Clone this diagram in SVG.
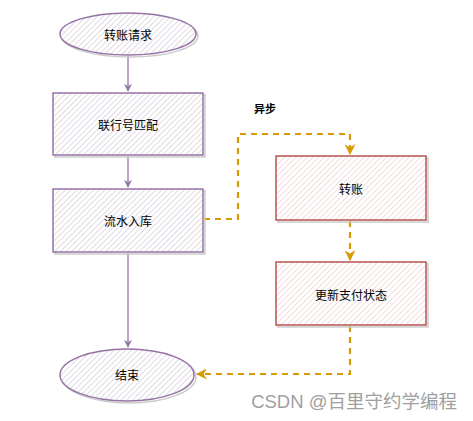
<svg xmlns="http://www.w3.org/2000/svg" width="473" height="421" viewBox="0 0 473 421">
<defs>
<pattern id="hp" patternUnits="userSpaceOnUse" width="4" height="4" patternTransform="rotate(45)">
<rect width="4" height="4" fill="#ffffff"/>
<line x1="0" y1="0" x2="0" y2="4" stroke="#c6bccc" stroke-width="1.1"/>
</pattern>
<pattern id="hr" patternUnits="userSpaceOnUse" width="4" height="4" patternTransform="rotate(45)">
<rect width="4" height="4" fill="#ffffff"/>
<line x1="0" y1="0" x2="0" y2="4" stroke="#e6c3c1" stroke-width="1.1"/>
</pattern>
<marker id="ap" viewBox="0 0 10 10" refX="9" refY="5" markerWidth="8" markerHeight="8" orient="auto" markerUnits="userSpaceOnUse">
<path d="M0,0 L10,5 L0,10 L3,5 Z" fill="#9673a6"/>
</marker>
<marker id="ao" viewBox="0 0 10 10" refX="9" refY="5" markerWidth="11" markerHeight="11" orient="auto" markerUnits="userSpaceOnUse">
<path d="M0,0 L10,5 L0,10 L3,5 Z" fill="#d79b00"/>
</marker>
<style>
.p{fill:url(#hp);stroke:#9673a6;stroke-width:1.5}
.r{fill:url(#hr);stroke:#b85450;stroke-width:1.5}
.sh{fill:none;stroke:#cccccc;stroke-width:1.5}
.t{font-family:"Noto Sans CJK SC","Liberation Sans",sans-serif;font-size:12px;fill:#000;text-anchor:middle;dominant-baseline:central}
.e{fill:none;stroke:#9673a6;stroke-width:1.3}
.d{fill:none;stroke:#d79b00;stroke-width:2.2;stroke-dasharray:6 5}
</style>
</defs>
<g id="connectors">
<path class="e" d="M128,56 V91" marker-end="url(#ap)"/>
<path class="e" d="M128,156 V187" marker-end="url(#ap)"/>
<path class="e" d="M128,253 V347" marker-end="url(#ap)"/>
<path class="d" d="M204,219 H238 V134 H350 V154" marker-end="url(#ao)"/>
<path class="d" d="M350,221 V260" marker-end="url(#ao)"/>
<path class="d" d="M350,326 V374 H197" marker-end="url(#ao)"/>
<text x="265" y="108" style="font-family:'Noto Sans CJK SC',sans-serif;font-size:11px;font-weight:bold;text-anchor:middle;dominant-baseline:central">异步</text>
</g>
<g id="start">
<ellipse class="sh" cx="130" cy="36" rx="68" ry="21"/>
<ellipse class="p" cx="128" cy="34" rx="68" ry="21"/>
<text class="t" x="128" y="34">转账请求</text>
</g>
<g id="match">
<rect class="sh" x="55" y="95" width="150" height="62"/>
<rect class="p" x="53" y="93" width="150" height="62"/>
<text class="t" x="128" y="124">联行号匹配</text>
</g>
<g id="store">
<rect class="sh" x="55" y="191" width="150" height="63"/>
<rect class="p" x="53" y="189" width="150" height="63"/>
<text class="t" x="128" y="220">流水入库</text>
</g>
<g id="end">
<ellipse class="sh" cx="129" cy="377" rx="67" ry="26"/>
<ellipse class="p" cx="127" cy="375" rx="67" ry="26"/>
<text class="t" x="127" y="374">结束</text>
</g>
<g id="transfer">
<rect class="sh" x="278" y="158" width="150" height="64"/>
<rect class="r" x="276" y="156" width="150" height="64"/>
<text class="t" x="351" y="188">转账</text>
</g>
<g id="update">
<rect class="sh" x="278" y="264" width="150" height="63"/>
<rect class="r" x="276" y="262" width="150" height="63"/>
<text class="t" x="351" y="294">更新支付状态</text>
</g>
<text x="457" y="408" style="font-family:'Liberation Sans','Noto Sans CJK SC',sans-serif;font-size:18.5px;fill:#a0a0a0;text-anchor:end">CSDN @百里守约学编程</text>
</svg>
